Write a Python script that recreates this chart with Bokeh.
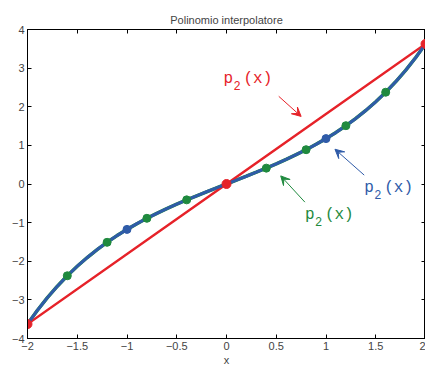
from bokeh.plotting import figure
from bokeh.models import Range1d, LinearAxis, Arrow, VeeHead, FixedTicker
from bokeh.core.properties import value
from bokeh.embed import file_html
from bokeh.resources import INLINE

# --- data ---
x_curve = [-2.0, -1.9, -1.8, -1.7, -1.6, -1.5, -1.4, -1.3, -1.2, -1.1, -1.0,
           -0.9, -0.8, -0.7, -0.6, -0.5, -0.4, -0.3, -0.2, -0.1, 0.0,
           0.1, 0.2, 0.3, 0.4, 0.5, 0.6, 0.7, 0.8, 0.9, 1.0,
           1.1, 1.2, 1.3, 1.4, 1.5, 1.6, 1.7, 1.8, 1.9, 2.0]
y_curve = [-3.627, -3.268, -2.942, -2.646, -2.376, -2.129, -1.904, -1.698, -1.510, -1.336, -1.175,
           -1.027, -0.888, -0.759, -0.637, -0.521, -0.411, -0.305, -0.201, -0.100, 0.0,
           0.100, 0.201, 0.305, 0.411, 0.521, 0.637, 0.759, 0.888, 1.027, 1.175,
           1.336, 1.510, 1.698, 1.904, 2.129, 2.376, 2.646, 2.942, 3.268, 3.627]
x_red = [-2.0, 0.0, 2.0]
y_red = [-3.627, 0.0, 3.627]
x_blue = [-1.0, 1.0]
y_blue = [-1.175, 1.175]
x_green = [-1.6, -1.2, -0.8, -0.4, 0.4, 0.8, 1.2, 1.6]
y_green = [-2.376, -1.510, -0.888, -0.411, 0.411, 0.888, 1.510, 2.376]
x_ticks = [-2, -1.5, -1, -0.5, 0, 0.5, 1, 1.5, 2]
x_tick_labels = ["\u22122", "\u22121.5", "\u22121", "\u22120.5", "0", "0.5", "1", "1.5", "2"]
y_ticks = [-4, -3, -2, -1, 0, 1, 2, 3, 4]
y_tick_labels = ["\u22124", "\u22123", "\u22122", "\u22121", "0", "1", "2", "3", "4"]
title_text = "Polinomio interpolatore"
x_label = "x"

RED = "#e62229"
BLUE = "#2f5ba8"
GREEN = "#1f8a3e"

p = figure(width=425, height=368, output_backend="svg", toolbar_location=None,
           x_range=Range1d(-2, 2), y_range=Range1d(-4, 4),
           min_border_left=27, min_border_right=0, min_border_top=29, min_border_bottom=10)
p.title.text = title_text
p.title.align = "center"
p.title.text_font = "Liberation Sans"
p.title.text_font_size = "11px"
p.title.text_font_style = "normal"
p.title.standoff = 8
p.grid.visible = False
p.outline_line_color = "black"
p.outline_line_width = 1
p.background_fill_color = "white"
p.border_fill_color = "white"

xo = {t: l for t, l in zip(x_ticks, x_tick_labels)}
yo = {t: l for t, l in zip(y_ticks, y_tick_labels)}

for ax in p.xaxis:
    ax.ticker = FixedTicker(ticks=x_ticks)
    ax.major_label_overrides = xo
    ax.axis_label = x_label
    ax.axis_label_text_font_size = "11px"
    ax.axis_label_text_font_style = "normal"
    ax.axis_label_text_font = "Liberation Sans"
    ax.axis_label_standoff = 1
for ax in p.yaxis:
    ax.ticker = FixedTicker(ticks=y_ticks)
    ax.major_label_overrides = yo
for ax in list(p.xaxis) + list(p.yaxis):
    ax.major_tick_in = 4
    ax.major_tick_out = 0
    ax.minor_tick_line_color = None
    ax.major_label_text_font = "Liberation Sans"
    ax.major_label_text_font_size = "11px"
    ax.major_label_standoff = 3
    ax.axis_line_color = "black"

top = LinearAxis(ticker=FixedTicker(ticks=x_ticks), major_tick_in=4, major_tick_out=0,
                 minor_tick_line_color=None,
                 major_label_overrides={t: "" for t in x_ticks},
                 major_label_standoff=0)
right = LinearAxis(ticker=FixedTicker(ticks=y_ticks), major_tick_in=4, major_tick_out=0,
                   minor_tick_line_color=None,
                   major_label_overrides={t: "" for t in y_ticks},
                   major_label_standoff=0)
p.add_layout(top, "above")
p.add_layout(right, "right")

# curves
p.line(x_curve, y_curve, line_color=GREEN, line_width=3.5)
p.line(x_red, y_red, line_color=RED, line_width=2.5)
p.line(x_curve, y_curve, line_color=BLUE, line_width=3)
p.scatter(x_green, y_green, size=8, fill_color=GREEN, line_color=GREEN)
p.scatter(x_blue, y_blue, size=8, fill_color=BLUE, line_color=BLUE)
p.scatter(x_red, y_red, size=9, fill_color=RED, line_color=RED)

# annotations: (text x, text y, arrow start, arrow end, color)
ann = [
    (-0.03, 2.73, (0.525, 2.27), (0.75, 1.75), RED),
    (1.384, -0.10, (1.384, 0.23), (1.09, 0.90), BLUE),
    (0.788, -0.80, (0.788, -0.47), (0.545, 0.21), GREEN),
]
mono = value("Liberation Mono")
for tx, ty, a0, a1, col in ann:
    p.text([tx], [ty], text=["p"], text_font=mono, text_font_size="16px",
           text_color=col, text_baseline="middle", text_align="left")
    p.text([tx], [ty], text=["2"], text_font=mono, text_font_size="12px",
           text_color=col, text_baseline="top", text_align="left", x_offset=10, y_offset=2)
    p.text([tx], [ty], text=["(x)"], text_font=mono, text_font_size="16px",
           text_color=col, text_baseline="middle", text_align="left", x_offset=20)
    p.add_layout(Arrow(x_start=a0[0], y_start=a0[1], x_end=a1[0], y_end=a1[1],
                       line_color=col, line_width=1,
                       end=VeeHead(size=9, line_color=col, fill_color=col, line_width=1)))

open("out.html", "w").write(file_html(p, INLINE))
